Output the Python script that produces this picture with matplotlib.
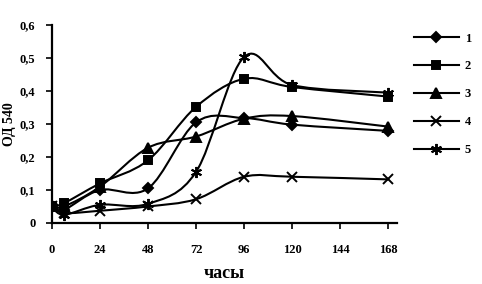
import matplotlib.pyplot as plt
import numpy as np
from matplotlib.path import Path
from matplotlib.patches import PathPatch
from matplotlib.lines import Line2D

# data
hours = [0, 6, 24, 48, 72, 96, 120, 168]
s1 = [0.05, 0.04, 0.10, 0.105, 0.305, 0.318, 0.298, 0.279]
s2 = [0.05, 0.06, 0.12, 0.19, 0.352, 0.437, 0.412, 0.383]
s3 = [0.05, 0.05, 0.11, 0.228, 0.262, 0.316, 0.324, 0.292]
s4 = [0.05, 0.03, 0.037, 0.05, 0.072, 0.14, 0.14, 0.132]
s5 = [0.05, 0.025, 0.055, 0.058, 0.155, 0.503, 0.418, 0.395]
series = [s1, s2, s3, s4, s5]
labels = ['1', '2', '3', '4', '5']
markers = ['D', 's', '^', 'x', (6, 2, 0)]
msizes = [5.5, 6, 6.5, 7, 8]
xticks = [0, 24, 48, 72, 96, 120, 144, 168]
yticks = [0, 0.1, 0.2, 0.3, 0.4, 0.5, 0.6]
ytick_labels = ['0', '0,1', '0,2', '0,3', '0,4', '0,5', '0,6']

plt.rcParams['font.family'] = ['Liberation Serif', 'DejaVu Serif']
plt.rcParams['font.weight'] = 'bold'


# smooth line like the spreadsheet one (Catmull-Rom as bezier segments)
def SmoothPath(x, y):
    pts = np.column_stack([x, y]).astype(float)
    n = len(pts)
    verts = [pts[0]]
    codes = [Path.MOVETO]
    for i in range(n - 1):
        p0 = pts[i - 1] if i > 0 else pts[i]
        p3 = pts[i + 2] if i + 2 < n else pts[i + 1]
        c1 = pts[i] + (pts[i + 1] - p0) / 6
        c2 = pts[i + 1] - (p3 - pts[i]) / 6
        verts += [c1, c2, pts[i + 1]]
        codes += [Path.CURVE4] * 3
    return Path(verts, codes)


fig = plt.figure(figsize=(4.82, 2.84), dpi=100)
ax = fig.add_axes([0.108, 0.215, 0.716, 0.697])

handles = []
for ys, lab, m, ms in zip(series, labels, markers, msizes):
    ax.add_patch(PathPatch(SmoothPath(hours, ys), facecolor='none',
                           edgecolor='black', lw=1.5))
    ax.plot(hours, ys, linestyle='none', marker=m, color='black',
            markersize=ms, markeredgewidth=1.4)
    handles.append(Line2D([], [], color='black', lw=1.5, marker=m,
                          markersize=ms, markeredgewidth=1.4, label=lab))

ax.set_xlim(0, 172.5)
ax.set_ylim(0, 0.6)
ax.set_xticks(xticks)
ax.set_xticklabels([str(t) for t in xticks], fontsize=9, fontweight='bold')
ax.set_yticks(yticks)
ax.set_yticklabels(ytick_labels, fontsize=9, fontweight='bold')
ax.tick_params(axis='x', direction='out', length=4, width=1.2, pad=11)
ax.tick_params(axis='y', direction='out', length=4, width=1.2, pad=8)
for side in ['top', 'right']:
    ax.spines[side].set_visible(False)
for side in ['left', 'bottom']:
    ax.spines[side].set_linewidth(1.6)

ax.set_xlabel('часы', fontsize=13, fontweight='bold', labelpad=7)
ax.set_ylabel('ОД 540', fontsize=10, fontweight='bold', labelpad=3)

fig.legend(handles=handles, loc='upper left', bbox_to_anchor=(0.835, 0.925),
           frameon=False, handlelength=3.6, handletextpad=0.5,
           labelspacing=1.27, prop={'size': 9, 'weight': 'bold'})

fig.savefig('out.png', dpi=100)
